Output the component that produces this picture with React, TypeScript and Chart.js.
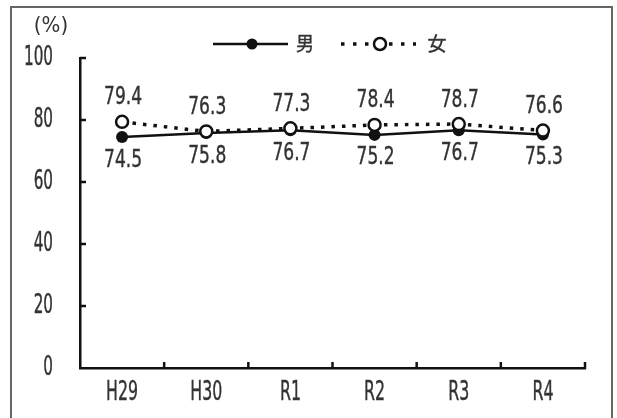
import React, { useEffect, useRef } from "react";
import { Chart, registerables } from "chart.js";

Chart.register(...registerables);

const categories = ["H29", "H30", "R1", "R2", "R3", "R4"];
const maleValues = [74.5, 75.8, 76.7, 75.2, 76.7, 75.3];
const femaleValues = [79.4, 76.3, 77.3, 78.4, 78.7, 76.6];
const yMin = 0;
const yMax = 100;
const yStep = 20;
const maleLabel = "男";
const femaleLabel = "女";
const unitLabel = "(%)";

const NUM_FONT = "'DejaVu Sans Condensed', 'Liberation Sans Narrow', 'DejaVu Sans', sans-serif";
const CJK_FONT = "'Noto Sans CJK JP', sans-serif";
const TEXT = "#333";
const INK = "#111";

function drawText(
  ctx: CanvasRenderingContext2D,
  text: string,
  x: number,
  y: number,
  size: number,
  sx: number,
  align: CanvasTextAlign,
  family: string = NUM_FONT,
  stroke: number = 0.4
) {
  ctx.save();
  ctx.translate(x, y);
  ctx.scale(sx, 1);
  ctx.font = `${size}px ${family}`;
  ctx.textAlign = align;
  ctx.textBaseline = "middle";
  ctx.fillStyle = TEXT;
  ctx.fillText(text, 0, 0);
  if (stroke > 0) {
    ctx.strokeStyle = TEXT;
    ctx.lineWidth = stroke;
    ctx.strokeText(text, 0, 0);
  }
  ctx.restore();
}

const framePlugin = {
  id: "frame",
  beforeDraw(chart: any) {
    const { ctx } = chart;
    ctx.save();
    ctx.fillStyle = "#fff";
    ctx.fillRect(0, 0, chart.width, chart.height);
    ctx.strokeStyle = "#666";
    ctx.lineWidth = 2;
    ctx.strokeRect(11, 7, 601, 430);
    ctx.restore();
  },
};

const decoPlugin = {
  id: "deco",
  afterDraw(chart: any) {
    const { ctx } = chart;
    const ys = chart.scales.y;
    const xs = chart.scales.x;
    ctx.save();
    ctx.strokeStyle = INK;
    ctx.lineWidth = 2.5;
    // inward ticks on y axis
    ys.ticks.forEach((t: any) => {
      if (t.value === yMin) return;
      const y = ys.getPixelForValue(t.value);
      ctx.beginPath();
      ctx.moveTo(xs.left, y);
      ctx.lineTo(xs.left + 6, y);
      ctx.stroke();
    });
    // inward ticks on x axis at category boundaries
    const n = categories.length;
    for (let k = 1; k <= n; k++) {
      const x = xs.left + (k * (xs.right - xs.left)) / n;
      ctx.beginPath();
      ctx.moveTo(x, xs.top + 1);
      ctx.lineTo(x, xs.top - 6);
      ctx.stroke();
    }
    ctx.restore();

    // y tick labels
    ys.ticks.forEach((t: any) => {
      drawText(ctx, String(t.label), 53, ys.getPixelForValue(t.value), 26, 0.65, "right");
    });
    // x tick labels
    xs.ticks.forEach((t: any, i: number) => {
      drawText(ctx, String(xs.getLabelForValue(t.value)), xs.getPixelForTick(i), xs.top + 25, 27, 0.65, "center");
    });
    // unit label
    drawText(ctx, unitLabel, 51, 27, 21, 1.05, "center", NUM_FONT, 0);

    // legend
    const ly = 44;
    ctx.save();
    ctx.strokeStyle = INK;
    ctx.lineWidth = 2.5;
    ctx.beginPath();
    ctx.moveTo(213, ly);
    ctx.lineTo(288, ly);
    ctx.stroke();
    ctx.fillStyle = INK;
    ctx.beginPath();
    ctx.arc(252, ly, 5.5, 0, Math.PI * 2);
    ctx.fill();

    ctx.lineWidth = 3.5;
    ctx.setLineDash([3.5, 8.5]);
    ctx.beginPath();
    ctx.moveTo(341, ly);
    ctx.lineTo(416, ly);
    ctx.stroke();
    ctx.setLineDash([]);
    ctx.fillStyle = "#fff";
    ctx.lineWidth = 2.5;
    ctx.beginPath();
    ctx.arc(380, ly, 6, 0, Math.PI * 2);
    ctx.fill();
    ctx.stroke();
    ctx.restore();
    drawText(ctx, maleLabel, 305, ly, 19, 0.95, "center", CJK_FONT);
    drawText(ctx, femaleLabel, 437, ly, 19, 1.0, "center", CJK_FONT);
  },
  afterDatasetsDraw(chart: any) {
    const { ctx } = chart;
    chart.data.datasets.forEach((ds: any, i: number) => {
      const meta = chart.getDatasetMeta(i);
      const above = ds.label === femaleLabel;
      meta.data.forEach((pt: any, j: number) => {
        const v = ds.data[j] as number;
        const y = above ? pt.y - 24 : pt.y + 23;
        drawText(ctx, v.toFixed(1), pt.x + 1, y, 25, 0.76, "center");
      });
    });
  },
};

export default function App() {
  const ref = useRef<HTMLCanvasElement>(null);
  useEffect(() => {
    if (!ref.current) return;
    const chart = new Chart(ref.current, {
      type: "line",
      data: {
        labels: categories,
        datasets: [
          {
            label: maleLabel,
            data: maleValues,
            borderColor: INK,
            borderWidth: 2.5,
            pointRadius: 6,
            pointBackgroundColor: INK,
            pointBorderColor: INK,
            pointBorderWidth: 0,
            tension: 0,
            order: 2,
          },
          {
            label: femaleLabel,
            data: femaleValues,
            borderColor: INK,
            borderWidth: 3.5,
            borderDash: [3.5, 7],
            pointRadius: 6,
            pointBackgroundColor: "#fff",
            pointBorderColor: INK,
            pointBorderWidth: 2.5,
            tension: 0,
            order: 1,
          },
        ],
      },
      options: {
        responsive: false,
        animation: false,
        devicePixelRatio: 1,
        layout: { padding: { top: 58, right: 32, left: 0, bottom: 0 } },
        plugins: {
          legend: { display: false },
          tooltip: { enabled: false },
        },
        scales: {
          x: {
            type: "category",
            offset: true,
            grid: { drawOnChartArea: false, drawTicks: false },
            border: { display: true, color: INK, width: 2.5 },
            ticks: { display: false },
            afterFit: (s: any) => {
              s.height = 50;
            },
          },
          y: {
            min: yMin,
            max: yMax,
            grid: { drawOnChartArea: false, drawTicks: false },
            border: { display: true, color: INK, width: 2.5 },
            ticks: { display: false, stepSize: yStep },
            afterFit: (s: any) => {
              s.width = 80;
            },
          },
        },
      },
      plugins: [framePlugin, decoPlugin],
    } as any);
    return () => chart.destroy();
  }, []);
  return (
    <div style={{ position: "fixed", left: 0, top: 0, width: 617, height: 418 }}>
      <canvas ref={ref} width={617} height={418} style={{ width: 617, height: 418, display: "block" }} />
    </div>
  );
}
